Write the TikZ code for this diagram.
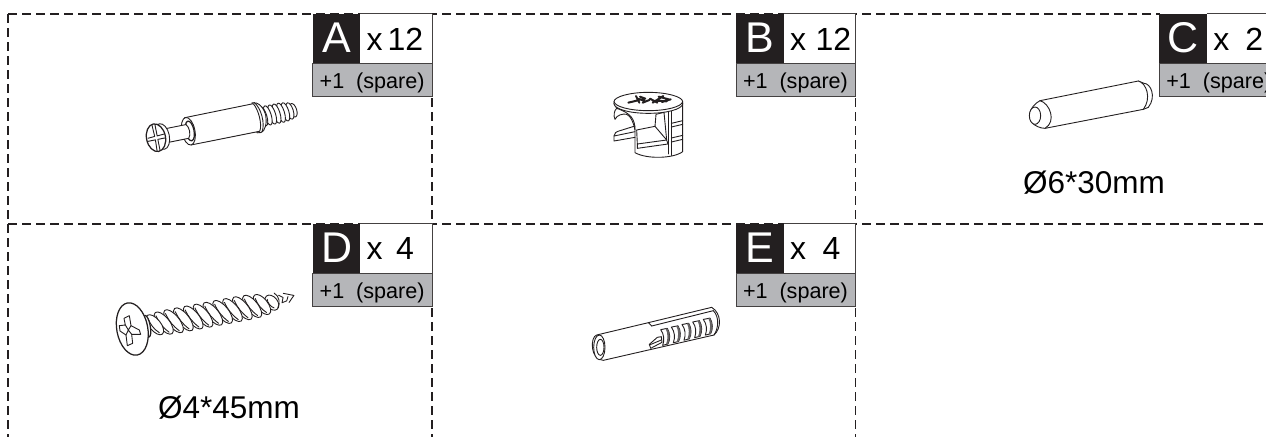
\documentclass[tikz,border=0pt]{standalone}
\usepackage{fontspec}
\setmainfont{Liberation Sans}
\definecolor{ink}{HTML}{231F20}
\definecolor{sparegray}{HTML}{B5B6B9}
\tikzset{
  grid/.style={draw=ink,line width=1.2pt,dash pattern=on 8.5pt off 5.5pt},
  part/.style={draw=ink,line width=0.9pt,fill=white,line join=round},
  wire/.style={draw=ink,line width=0.9pt,line join=round,line cap=round},
  heavy/.style={draw=ink,line width=1.25pt,line join=round,line cap=round},
  txt/.style={inner sep=0pt,outer sep=0pt,text=black,anchor=base west},
}
% id, left, top, width, letter, x offset of number, number
\newcommand{\tagbox}[7]{%
  \begin{scope}[shift={(#2,#3)}]
    \fill[white] (47.5,0) rectangle (#4,50);
    \fill[ink] (0,0) rectangle (47.5,50);
    \draw[fill=sparegray,draw=ink!85,line width=1pt] (0,50) rectangle (#4,83);
    \draw[draw=ink!85,line width=1pt] (#4,0) -- (#4,50);
    \draw[draw=ink!85,line width=1pt] (47.5,0) -- (#4,0);
    \node[inner sep=0pt,outer sep=0pt,text=white,anchor=base] (#1letter) at (24,39) {\fontsize{43}{43}\selectfont #5};
    \node[txt] (#1times) at (54,36.3) {\fontsize{32}{32}\selectfont x};
    \node[txt] (#1count) at (#6,36.3) {\fontsize{32}{32}\selectfont #7};
    \node[txt] (#1spare) at (7,74.5) {\fontsize{21.6}{21.6}\selectfont +1\hspace{0.55em}(spare)};
  \end{scope}}
\begin{document}
\begin{tikzpicture}[x=1pt,y=-1pt]
\useasboundingbox (0,0) rectangle (1266,437);
\clip (0,0) rectangle (1266,437);
% grid
\draw[grid] (8,14) -- (1160,14);
\draw[grid] (8,224) -- (1266,224);
\draw[grid] (8,14) -- (8,437);
\draw[grid] (432,14) -- (432,437);
\draw[grid] (855.6,14) -- (855.6,437);
% tags
\tagbox{a}{312.7}{13.7}{119.3}{A}{75}{12}
\tagbox{b}{736}{13.7}{119.6}{B}{79.5}{12}
\tagbox{c}{1159.3}{13.7}{125}{C}{86}{2}
\tagbox{d}{312.7}{223.5}{119.8}{D}{83.5}{4}
\tagbox{e}{736}{223.5}{119.6}{E}{86.5}{4}
% sizes
\node[txt] (csize) at (1023,193) {\fontsize{31.5}{31.5}\selectfont Ø6*30mm};
\node[txt] (dsize) at (158,418) {\fontsize{31.5}{31.5}\selectfont Ø4*45mm};

% PART A
\begin{scope}[shift={(156,137.7)},rotate=11.3]
  \foreach \u/\r in {140/7,136.5/8.5,132/9.5,127.5/10,123/10,118.5/10,114/10,109.5/10}
    \draw[part,rotate around={6:(\u,0)}] (\u,0) ellipse [x radius=3.4,y radius=\r];
  \draw[part] (101,-15.5) .. controls (108,-15.5) and (112,-7) .. (112,0) .. controls (112,7) and (108,15.5) .. (104,15.5) -- (100,15) -- cycle;
  \draw[wire] (103,-15.5) .. controls (109,-9) and (110,8) .. (105,15.2);
  \draw[part] (32,-14) -- (102,-14.3) .. controls (106,-8) and (107,8) .. (103,14) -- (33,14) -- cycle;
  \draw[part] (33,0) ellipse [x radius=6.6,y radius=14];
  \draw[heavy,fill=white] (34.5,0) ellipse [x radius=4.2,y radius=10];
  \draw[part] (5,-7) -- (32,-7) .. controls (35,-4) and (35,4) .. (32,7) -- (5,7) -- cycle;
  \draw[part] (6,0) ellipse [x radius=7.5,y radius=13];
  \draw[heavy,fill=white] (0,0) ellipse [x radius=9.5,y radius=14];
  \draw[wire] (-8,-1) -- (-1,-1.5) -- (-1.5,-13) (1.5,-13) -- (1.5,-1.5) -- (8.5,-2);
  \draw[wire] (-8.5,2) -- (-1,2) -- (-1.5,13) (1.5,13) -- (1.5,2) -- (8.5,2);
\end{scope}

% PART B (zoom scale)
\begin{scope}[shift={(600,80)},scale=1/3]
  \draw[part] (50,85) .. controls (95,100) and (105,120) .. (105,150) -- (105,218) .. controls (140,238) and (220,236) .. (248,215) -- (248,70) -- (42,70) -- cycle;
  \draw[part] (42,65) .. controls (42,50) and (90,37) .. (145,37) .. controls (200,37) and (248,50) .. (248,65) -- (248,72) .. controls (245,88) and (200,100) .. (145,100) .. controls (90,100) and (45,88) .. (42,72) -- cycle;
  \draw[wire] (42,65) .. controls (45,80) and (90,92) .. (145,92) .. controls (200,92) and (245,80) .. (248,65);
  % arm
  \draw[wire] (50,85) .. controls (42,92) and (40,108) .. (45,118) .. controls (50,105) and (70,100) .. (80,103) (80,103) .. controls (92,108) and (100,125) .. (105,150);
  \draw[wire] (105,138) -- (60,152) .. controls (48,155) and (42,160) .. (42,168) -- (42,183) -- (105,172);
  \draw[wire] (42,168) -- (105,155);
  % window
  \draw[wire] (110,150) -- (165,139) -- (168,103) -- (192,97) -- (200,180) -- (112,192) -- cycle;
  \draw[wire] (165,139) -- (200,180) (112,192) -- (112,205);
  \draw[wire] (200,180) -- (204,192) -- (112,205);
  \draw[wire] (205,96) -- (205,222) (214,94) -- (214,226);
  \draw[wire] (214,130) -- (248,122) (214,141) -- (248,133) (214,174) -- (248,166) (214,186) -- (248,178);
  % marks on the top
  \draw[ink,line width=2pt,line cap=round] (85,68) -- (118,60) (108,48) -- (118,68) (120,50) -- (136,56) (128,68) -- (148,60) (112,56) -- (134,62) (150,56) -- (172,68) (158,68) -- (190,48) (176,50) -- (206,58) (186,66) -- (212,58) (170,62) -- (200,64);
\end{scope}

% PART C (zoom scale)
\begin{scope}[shift={(1000,0)},scale=1/3]
  \draw[part] (432,250) .. controls (452,250) and (470,290) .. (445,322) -- (430,328) -- (415,243) -- cycle;
  \draw[part] (120,302) -- (415,243) .. controls (440,250) and (455,295) .. (430,328) -- (135,385) .. controls (120,385) and (104,377) .. (96,368) .. controls (82,350) and (88,320) .. (120,302) -- cycle;
  \draw[wire] (120,302) .. controls (150,310) and (170,365) .. (135,385);
  \draw[part] (105,347) ellipse [x radius=17,y radius=26];
\end{scope}

% PART D
\begin{scope}[shift={(132.3,329)},rotate=10.7]
  \foreach \u/\r in {142/8.5,132/12,122/13.5,112/14,102/14,92/14,82/14,72/14,62/14,52/14,42/14,32/13.5,23/12}{
    \draw[part,rotate around={28:(\u,0)}] (\u,0) ellipse [x radius=5.8,y radius=\r];
    \draw[wire,rotate around={28:(\u,0)}] (\u-1.5,-\r+3) .. controls (\u-3.5,-3) and (\u-3.5,3) .. (\u-1.5,\r-3);
  }
  \draw[wire] (146,-9) .. controls (151,-5) and (150,3) .. (147,6) (150,-6) -- (154,-3) -- (152,2) -- (157,1) -- (159,-3) (155,-7) -- (165,-3) -- (159,3);
  \draw[heavy,fill=white] (15,0) ellipse [x radius=3.2,y radius=11];
  \draw[heavy,fill=white] (0,0) ellipse [x radius=15.5,y radius=26.5];
\end{scope}
\begin{scope}[shift={(110,295)},scale=1/3]
  \draw[wire] (42,70) -- (58,62) -- (63,92) -- (88,105) -- (92,118) -- (65,118) -- (68,145) -- (52,152) -- (48,120) -- (30,108) -- (28,92) -- (46,90) -- cycle;
  \draw[wire] (46,90) -- (55,105) -- (48,120) (55,105) -- (65,118) (55,105) -- (63,92);
\end{scope}

% PART E (zoom scale)
\begin{scope}[shift={(570,220)},scale=1/3]
  \draw[part] (80,345) -- (235,308) -- (425,262) .. controls (455,280) and (455,325) .. (432,345) -- (100,421) .. controls (60,420) and (60,350) .. (80,345) -- cycle;
  \draw[wire] (245,318) -- (430,272);
  \draw[wire] (235,308) -- (245,318);
  \draw[wire] (430,272) .. controls (448,290) and (446,325) .. (432,345);
  \draw[part] (88,382) ellipse [x radius=17,y radius=37];
  \draw[part] (91,382) ellipse [x radius=11,y radius=24];
  % slots
  \foreach \a in {0,32,64,96,128}{
    \draw[part] (272+\a,329-\a*.24) -- (292+\a,325-\a*.24) .. controls (301+\a,340-\a*.24) and (301+\a,358-\a*.24) .. (294+\a,372-\a*.24) -- (278+\a,376-\a*.24) .. controls (284+\a,360-\a*.24) and (282+\a,342-\a*.24) .. (272+\a,329-\a*.24) -- cycle;
    \fill[ink!70] (292+\a,325-\a*.24) .. controls (301+\a,340-\a*.24) and (301+\a,358-\a*.24) .. (294+\a,372-\a*.24) -- (288+\a,373.5-\a*.24) .. controls (294+\a,358-\a*.24) and (294+\a,340-\a*.24) .. (287+\a,326-\a*.24) -- cycle;
  }
  % tab
  \draw[part] (238,373) -- (262,352) -- (274,350) -- (276,367) -- (242,385) -- cycle;
  \draw[wire] (238,375) -- (274,360);
\end{scope}
\end{tikzpicture}
\end{document}
